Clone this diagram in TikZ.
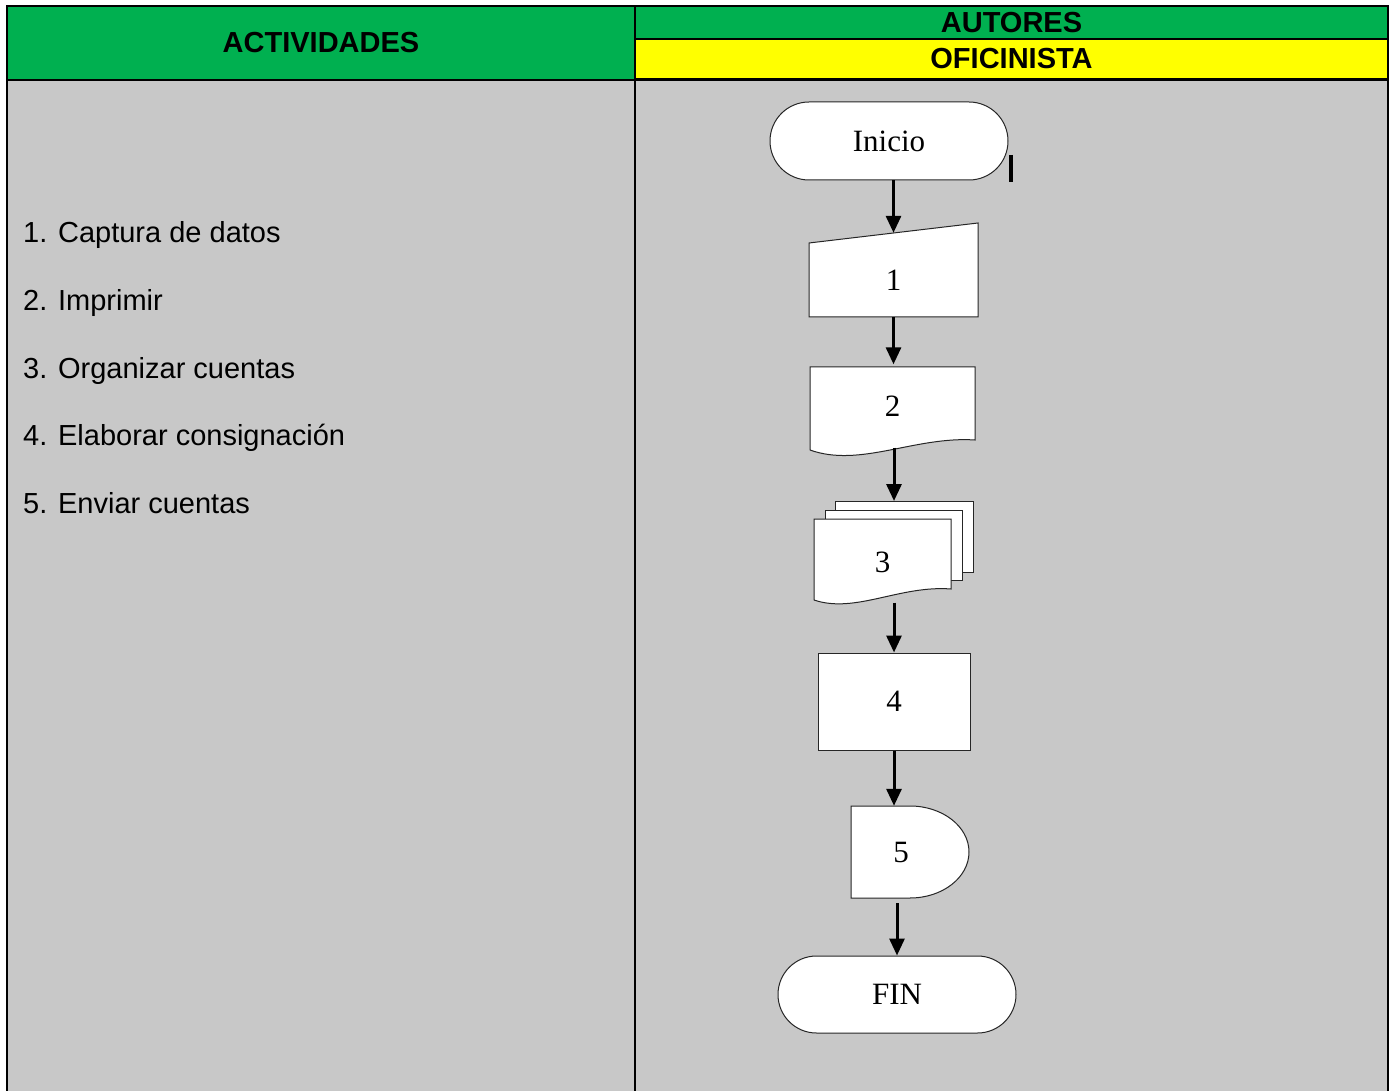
\documentclass[tikz,border=0pt]{standalone}
\usepackage{fontspec}
\setmainfont{Liberation Serif}
\setsansfont{Liberation Sans}
\usetikzlibrary{arrows.meta}
\definecolor{verde}{RGB}{0,176,80}
\definecolor{amarillo}{RGB}{255,255,0}
\definecolor{gris}{RGB}{200,200,200}
\tikzset{
  celda/.style={draw=black,line width=2.5pt},
  titulo/.style={font=\sffamily\bfseries\fontsize{29}{34}\selectfont},
  actividad/.style={anchor=base west,inner sep=0pt,font=\sffamily\fontsize{29}{34}\selectfont},
  forma/.style={draw=black!85,line width=1pt,fill=white},
  texto/.style={inner sep=0pt,font=\fontsize{31}{36}\selectfont},
  flecha/.style={line width=3pt,-{Triangle[width=15pt,length=17pt]}}
}
\begin{document}
\begin{tikzpicture}[x=1pt,y=-1pt]
\path[use as bounding box,clip] (0,0) rectangle (1393,1091);
\fill[white] (0,0) rectangle (1393,1091);
% cuadro
\fill[gris] (7,80) rectangle (1388,1100);
\node[celda,fill=verde,titulo,minimum width=628pt,minimum height=74pt] (actividades) at (321,43) {ACTIVIDADES};
\node[celda,fill=verde,titulo,minimum width=753pt,minimum height=34pt] (autores) at (1011.5,23) {AUTORES};
\node[celda,fill=amarillo,titulo,minimum width=753pt,minimum height=40pt] (oficinista) at (1011.5,59) {OFICINISTA};
\draw[celda] (7,80) rectangle (635,1100);
\draw[celda] (635,80) rectangle (1388,1100);
% actividades
\node[actividad] (a1) at (23,243) {1. Captura de datos};
\node[actividad] (a2) at (23,311) {2. Imprimir};
\node[actividad] (a3) at (23,378) {3. Organizar cuentas};
\node[actividad] (a4) at (23,446) {4. Elaborar consignación};
\node[actividad] (a5) at (23,513) {5. Enviar cuentas};
% diagrama
\node[forma,texto,rounded corners=39pt,minimum width=238pt,minimum height=78pt] (inicio) at (889,141) {Inicio};
\draw[line width=3.5pt] (1011,155)--(1011,182);
\filldraw[forma] (809,317)--(809,243)--(978,223)--(978,317)--cycle;
\node[texto,minimum width=169pt,minimum height=74pt] (p1) at (893.5,280) {1};
\filldraw[forma] (810,450)--(810,367)--(975,367)--(975,440) .. controls (915,436) and (860,468) .. (810,450);
\node[texto,minimum width=165pt,minimum height=83pt] (p2) at (892.5,406) {2};
\filldraw[forma] (835,501) rectangle (973,572);
\filldraw[forma] (825,510) rectangle (962,580);
\filldraw[forma] (814,600)--(814,519)--(951,519)--(951,589) .. controls (900,585) and (855,614) .. (814,600);
\node[texto,minimum width=137pt,minimum height=81pt] (p3) at (882.5,562) {3};
\coordinate (pila) at (894,501);
\node[forma,texto,minimum width=152pt,minimum height=97pt] (p4) at (894,701.5) {4};
\filldraw[forma] (851,806)--(910,806) arc[start angle=-90,end angle=90,x radius=59,y radius=46]--(851,898)--cycle;
\node[texto,minimum width=100pt,minimum height=92pt] (p5) at (901,852) {5};
\node[forma,texto,rounded corners=38.5pt,minimum width=238pt,minimum height=77pt] (fin) at (897,994.5) {FIN};
% flechas
\draw[flecha] (p1.north |- inicio.south)--([yshift=10pt]p1.north);
\draw[flecha] (p1.south)--(p1.south |- p2.north);
\draw[flecha] (pila |- p2.south)--(pila);
\draw[flecha] (p4.north |- p3.south)--(p4.north);
\draw[flecha] (p4.south)--(p4.south |- p5.north);
\draw[flecha] ([yshift=-5pt]p5.south -| fin.north)--(fin.north);
\end{tikzpicture}
\end{document}
